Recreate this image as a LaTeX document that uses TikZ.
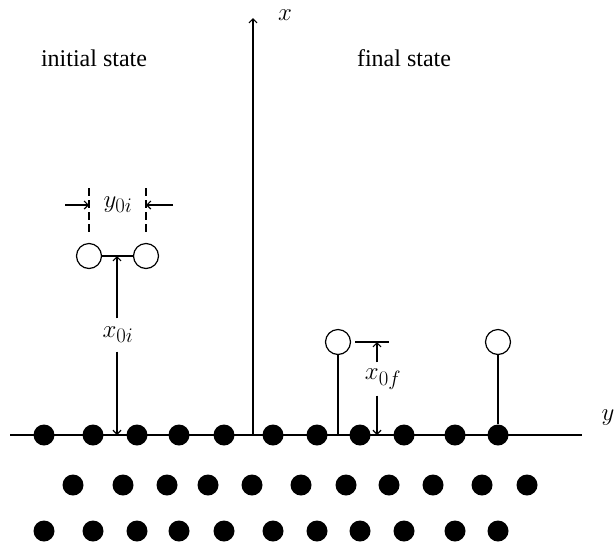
\documentclass[tikz,border=0pt]{standalone}
\usepackage{fontspec}
\setmainfont{Liberation Serif}
\usetikzlibrary{arrows.meta}

\begin{document}
\begin{tikzpicture}[x=1pt,y=-1pt,>={Straight Barb[length=4pt,width=8pt]},
 line width=1.2pt,
 atom/.style={circle,fill=black,inner sep=0pt,minimum size=21pt},
 adatom/.style={circle,draw,fill=white,inner sep=0pt,minimum size=25pt},
 lbl/.style={font=\fontsize{24}{28}\selectfont},
 mlbl/.style={font=\fontsize{28}{32}\selectfont},
 dimlbl/.style={font=\fontsize{28}{32}\selectfont,inner sep=0pt,minimum height=32pt}]
 \useasboundingbox (0,0) rectangle (615,542);
 % Achsen.
 \coordinate (sl) at (10,435);
 \coordinate (sr) at (582,435);
 \coordinate (ax0) at (253,435);
 \coordinate (axtip) at (253,18);
 \draw (sl)--(sr);
 \draw[->] (ax0)--(axtip);
 \node[mlbl] (xlab) at (285,15) {$x$};
 \node[mlbl] (ylab) at (608,418) {$y$};
 \node[lbl] (initlab) at (94,58) {initial state};
 \node[lbl] (finallab) at (404,58) {final state};
 % Gitter: drei Lagen.
 \foreach \px [count=\i] in {44,93,137,179,224,273,317,360,404,455,498}
  \node[atom] (t\i) at (\px,435) {};
 \foreach \px [count=\i] in {73,123,167,208,252,301,346,389,433,482,527}
  \node[atom] (m\i) at (\px,485) {};
 \foreach \px [count=\i] in {44,93,137,179,224,273,317,360,404,455,498}
  \node[atom] (b\i) at (\px,531) {};
 % Anfangszustand: Molekuel ueber der Oberflaeche.
 \node[adatom] (ia) at (89,256) {};
 \node[adatom] (ib) at (146,256) {};
 \draw (ia)--(ib);
 \coordinate (imid) at (117,256);
 \coordinate (ibase) at (117,435);
 \node[dimlbl] (x0i) at (118,335) {$x_{0i}$};
 \draw[->] (x0i.north -| imid)--(imid);
 \draw[->] (x0i.south -| ibase)--(ibase);
 \coordinate (da1) at (89,188);
 \coordinate (da2) at (89,234);
 \coordinate (db1) at (146,188);
 \coordinate (db2) at (146,234);
 \draw[dash pattern=on 8pt off 4pt] (da1)--(da2);
 \draw[dash pattern=on 8pt off 4pt] (db1)--(db2);
 \coordinate (ya) at (89,205);
 \coordinate (yb) at (146,205);
 \coordinate (yl) at (65,205);
 \coordinate (yr) at (173,205);
 \draw[->] (yl)--(ya);
 \draw[->] (yr)--(yb);
 \node[mlbl] (y0i) at (118,205) {$y_{0i}$};
 % Endzustand: getrennte Atome.
 \node[adatom] (fa) at (338,342) {};
 \node[adatom] (fb) at (498,342) {};
 \coordinate (fabase) at (338,435);
 \draw (fa)--(fabase);
 \draw (fb)--(t11);
 \coordinate (tk1) at (355,342);
 \coordinate (tk2) at (389,342);
 \draw (tk1)--(tk2);
 \coordinate (ftop) at (377,342);
 \coordinate (fbase) at (377,435);
 \node[dimlbl] (x0f) at (383,379) {$x_{0f}$};
 \draw[->] (x0f.north -| ftop)--(ftop);
 \draw[->] (x0f.south -| fbase)--(fbase);
\end{tikzpicture}
\end{document}
